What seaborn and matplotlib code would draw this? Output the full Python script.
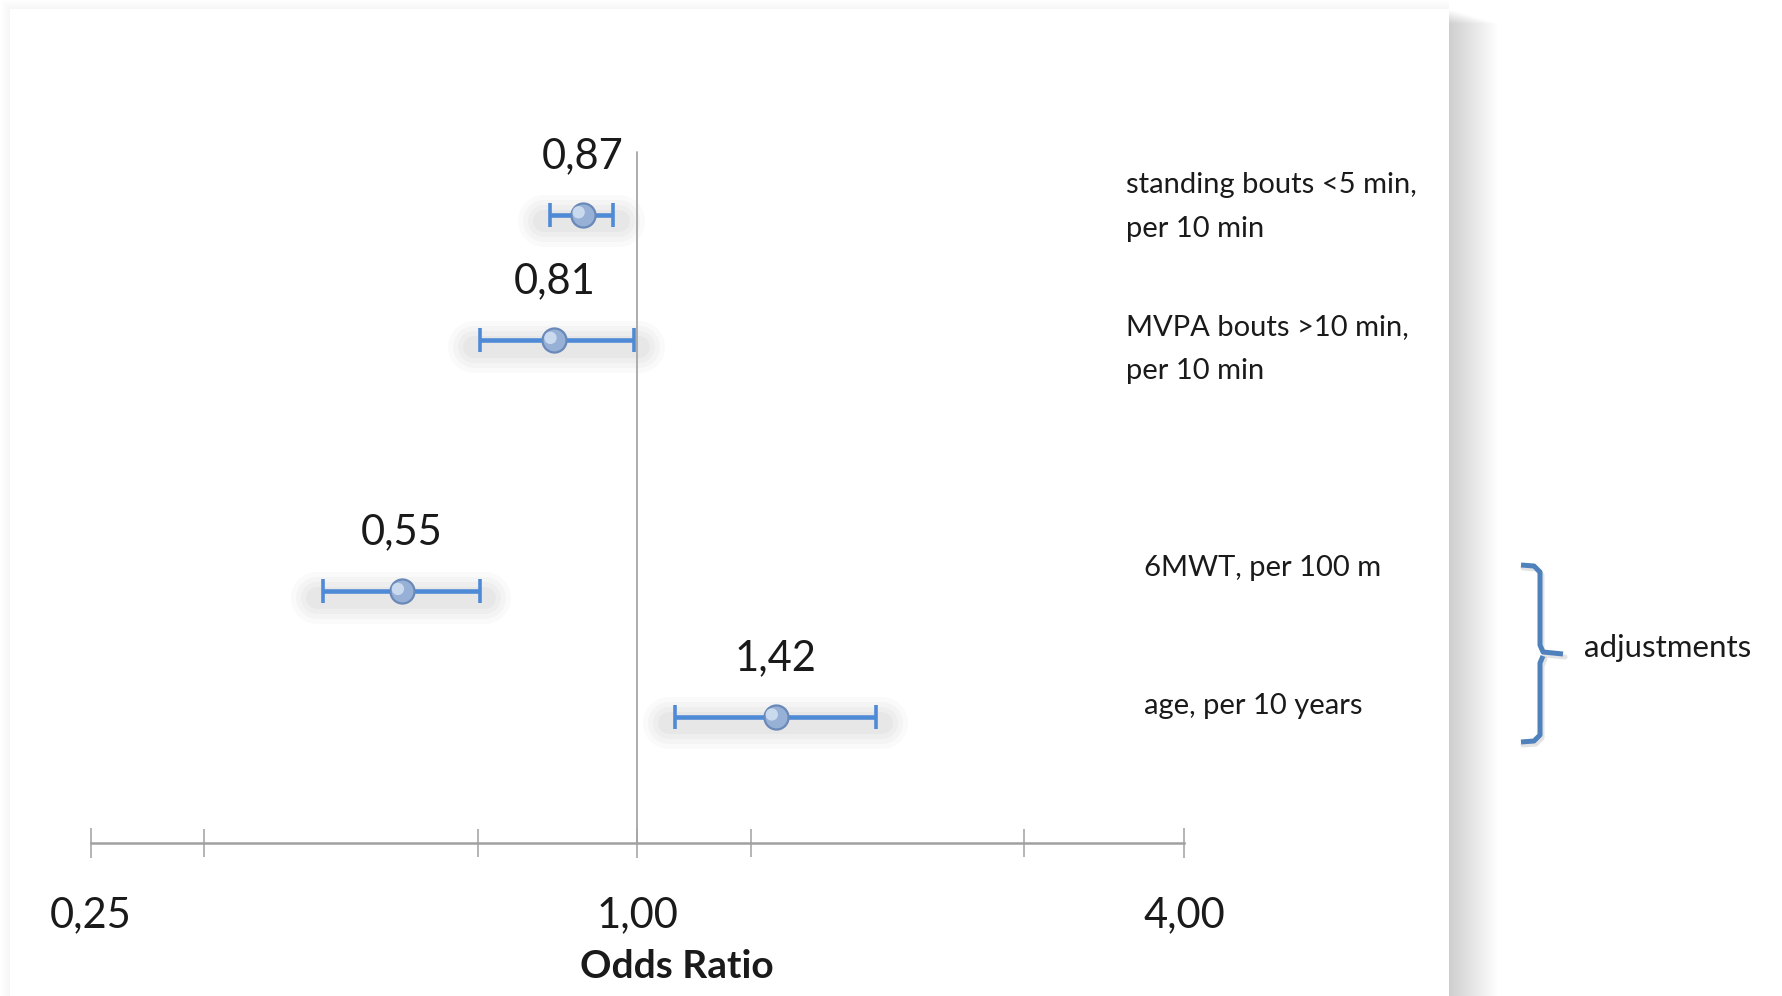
import numpy as np
import pandas as pd
import matplotlib
matplotlib.use("Agg")
import matplotlib.pyplot as plt
from matplotlib.patches import Rectangle
from matplotlib.lines import Line2D
import seaborn as sns

# ---------------- data ----------------
predictors = ["standing bouts <5 min,\nper 10 min",
              "MVPA bouts >10 min,\nper 10 min",
              "6MWT, per 100 m",
              "age, per 10 years"]
row_index = [0, 1, 3, 4]
odds_ratio = [0.87, 0.81, 0.55, 1.42]
ci_low = [0.80, 0.67, 0.45, 1.10]
ci_high = [0.94, 0.99, 0.67, 1.83]
or_text = ["0,87", "0,81", "0,55", "1,42"]
major_ticks = [0.25, 1.0, 4.0]
major_labels = ["0,25", "1,00", "4,00"]
minor_ticks = [1 / 3, 2 / 3, 4 / 3, 8 / 3]
x_title = "Odds Ratio"
bracket_text = "adjustments"

df = pd.DataFrame({"predictor": predictors, "row": row_index, "OR": odds_ratio,
                   "lo": ci_low, "hi": ci_high, "txt": or_text})

# ---------------- style ----------------
sns.set_theme(style="white")
plt.rcParams["font.family"] = ["Lato", "DejaVu Sans"]

W, H = 1783, 996
fig = plt.figure(figsize=(W / 100, H / 100), dpi=100)
fig.patch.set_facecolor("white")

def fx(px):
    return px / W

def fy(py):
    return 1 - py / H

# faint halo on top / left of the card
for k in range(1, 10):
    fig.add_artist(Rectangle((fx(10 - k), 0), fx(1439 + k), fy(9 - k),
                             transform=fig.transFigure, facecolor="black", edgecolor="none",
                             alpha=0.004, zorder=-21))
# right-side drop shadow
for k in range(1, 50):
    fig.add_artist(Rectangle((fx(1300), 0), fx(149 + k), fy(9 + k * 0.3),
                             transform=fig.transFigure, facecolor="black", edgecolor="none",
                             alpha=0.0058, zorder=-20))
fig.add_artist(Rectangle((fx(10), 0), fx(1439), fy(9), transform=fig.transFigure,
                         facecolor="white", edgecolor="none", zorder=-10))

# axes placement
ax_left, ax_right = 91, 1184
ax_top, ax_bottom = 152, 842.5
ax = fig.add_axes([fx(ax_left), fy(ax_bottom), fx(ax_right - ax_left), (ax_bottom - ax_top) / H])
ax.set_facecolor("none")
ax.set_xscale("log", base=2)
ax.set_xlim(0.25, 4)
ax.set_ylim(5, -0.5)

blue = "#4f8ad6"

# soft glow behind each interval
for _, r in df.iterrows():
    for lw, a in [(52, 0.03), (42, 0.035), (32, 0.04), (22, 0.045)]:
        ax.plot([r.lo * 0.985, r.hi * 1.015], [r.row + 0.05, r.row + 0.05], color="#606060",
                lw=lw * 0.72, alpha=a, solid_capstyle="round", zorder=1)

# reference line at OR = 1
ax.plot([1, 1], [-0.5, 5], color="#a6a6a6", lw=1.3, zorder=2, clip_on=False)

# confidence intervals
ax.errorbar(df["OR"], df["row"], xerr=[df["OR"] - df["lo"], df["hi"] - df["OR"]],
            fmt="none", ecolor=blue, elinewidth=3.3, capsize=8.5, capthick=2.6, zorder=3)

# point estimates
sns.scatterplot(data=df, x="OR", y="row", ax=ax, s=300, color="#97b0d6",
                edgecolor="#6a89b8", linewidth=1.6, zorder=4, legend=False)
ax.scatter(df["OR"] * 0.99, df["row"] - 0.02, s=80, color="#d3e1f3", edgecolor="none",
           alpha=0.85, zorder=5)

# value labels
for _, r in df.iterrows():
    ax.text(r.OR, r.row - 0.47, r.txt, ha="center", va="center", fontsize=30, color="#1a1a1a")

# predictor labels on right
label_x = [0.947, 0.947, 0.963, 0.963]
label_dy = [-0.06, 0.07, -0.19, -0.09]
for i, (_, r) in enumerate(df.iterrows()):
    ax.text(label_x[i], r.row + label_dy[i], r.predictor, transform=ax.get_yaxis_transform(),
            ha="left", va="center", fontsize=21, color="#1a1a1a", linespacing=1.85, clip_on=False)

# axes styling
for s in ["left", "top", "right"]:
    ax.spines[s].set_visible(False)
ax.spines["bottom"].set_color("#a0a0a0")
ax.spines["bottom"].set_linewidth(1.8)
ax.set_yticks([])
ax.set_xticks(major_ticks)
ax.set_xticklabels(major_labels)
ax.set_xticks(minor_ticks, minor=True)
ax.xaxis.set_minor_formatter(matplotlib.ticker.NullFormatter())
ax.tick_params(axis="x", which="major", direction="inout", length=22, width=1.1, color="#a0a0a0",
               labelsize=30, labelcolor="#1a1a1a", pad=28, bottom=True)
ax.tick_params(axis="x", which="minor", direction="inout", length=20, width=1.1, color="#a0a0a0",
               bottom=True)
ax.set_ylabel("")
ax.set_xlabel(x_title, fontsize=28, fontweight="bold", color="#1a1a1a")
ax.xaxis.set_label_coords((677 - ax_left) / (ax_right - ax_left), -(966 - ax_bottom) / (ax_bottom - ax_top))
ax.xaxis.label.set_va("center")

# bracket for adjustments
bc = "#4f81bd"
top_half = [(1521, 565), (1534, 566), (1540, 572), (1540, 645), (1543, 652), (1563, 654)]
bot_half = [(1543, 656), (1540, 663), (1540, 735), (1534, 741), (1521, 742)]
for pts in (top_half, bot_half):
    xs = [fx(p[0]) for p in pts]
    ys = [fy(p[1]) for p in pts]
    fig.add_artist(Line2D([x + 2 / W for x in xs], [y - 3 / H for y in ys], color="#909090", lw=3.6,
                          alpha=0.25, solid_capstyle="round", transform=fig.transFigure, zorder=4))
    fig.add_artist(Line2D(xs, ys, color=bc, lw=3.6, solid_capstyle="butt", solid_joinstyle="round",
                          transform=fig.transFigure, zorder=5))
fig.text(fx(1584), fy(648), bracket_text, ha="left", va="center", fontsize=22.5, color="#1a1a1a")

fig.savefig("out.png", dpi=100)
